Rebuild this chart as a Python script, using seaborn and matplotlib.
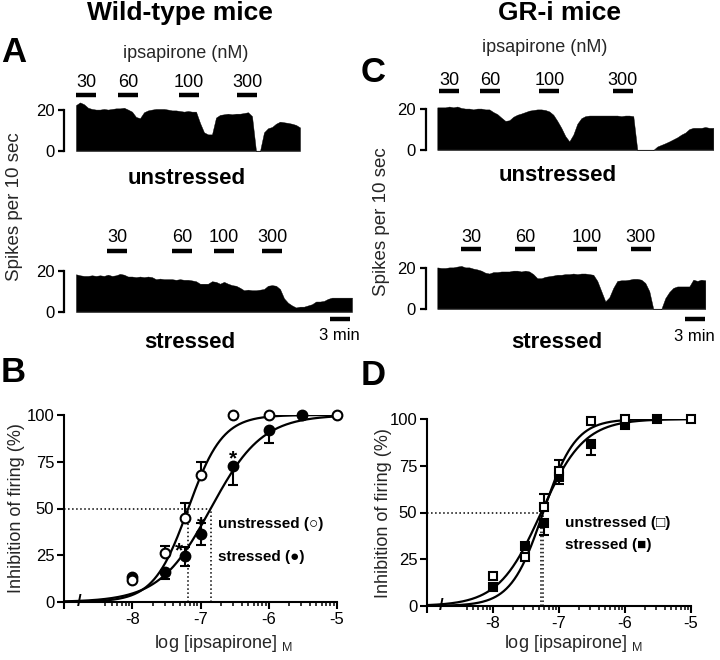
import numpy as np
import matplotlib
matplotlib.use("Agg")
import matplotlib.pyplot as plt
import seaborn as sns

# ---------------- data ----------------
# rate-meter traces (spikes per 10 s), one reading every 0.6 min
SAMPLE_MIN = 0.6
wt_unstressed_trace = [
    22.4, 23.7, 22.8, 21.1, 20.5, 20.2, 20.2, 20.5, 20.2, 20.5,
    20.8, 20.8, 21.1, 20.2, 19.2, 16.6, 16.0, 18.9, 19.8, 20.2,
    20.5, 20.5, 20.5, 20.2, 19.8, 19.8, 19.5, 19.2, 19.5, 19.2,
    19.2, 13.7, 9.1, 8.1, 8.1, 16.3, 17.6, 17.9, 18.2, 17.9,
    18.2, 18.2, 18.5, 18.9, 17.0, 0, 0, 9.1, 11.1, 11.7,
    13.3, 14.3, 14.0, 13.7, 13.3, 12.7, 11.5]
wt_stressed_trace = [
    18.4, 17.9, 17.6, 17.6, 17.9, 17.6, 17.9, 17.6, 18.2, 17.6,
    17.9, 18.6, 18.2, 17.3, 17.3, 17.0, 17.3, 17.0, 17.3, 17.0,
    16.0, 16.3, 16.0, 16.0, 16.0, 15.7, 16.0, 15.7, 15.7, 15.4,
    15.0, 13.8, 13.8, 13.8, 15.0, 14.7, 13.8, 14.7, 13.8, 13.1,
    12.8, 11.8, 10.6, 10.9, 10.6, 10.6, 10.9, 11.2, 12.8, 13.1,
    12.8, 11.2, 6.7, 4.5, 3.2, 2.2, 2.6, 2.6, 3.2, 3.8,
    5.1, 5.1, 5.4, 6.4, 7.0, 7.0, 7.0, 7.0, 7.0, 7.0]
gr_unstressed_trace = [
    20.8, 20.8, 20.8, 21.2, 20.8, 21.2, 20.5, 20.2, 20.2, 19.8,
    20.2, 20.2, 19.8, 19.8, 18.5, 17.5, 15.8, 14.2, 14.5, 16.2,
    17.2, 17.8, 18.5, 19.2, 19.5, 19.8, 19.8, 19.5, 18.8, 17.2,
    14.2, 10.8, 6.8, 4.2, 7.5, 12.8, 15.5, 16.5, 16.8, 16.8,
    16.8, 16.8, 16.8, 16.8, 16.8, 16.8, 16.5, 16.8, 16.8, 16.5,
    0, 0, 0, 0, 0, 1.7, 2.5, 3.3, 4.2, 5.2,
    6.2, 7.5, 8.5, 10.2, 10.8, 10.8, 10.8, 11.2, 10.8, 10.8]
gr_stressed_trace = [
    20.3, 20.0, 20.0, 20.3, 20.3, 20.7, 21.0, 20.3, 20.3, 19.7,
    19.3, 18.7, 17.7, 17.3, 18.0, 18.0, 18.3, 18.3, 18.3, 18.7,
    18.7, 18.3, 18.7, 18.3, 17.0, 15.0, 15.0, 15.7, 16.0, 16.3,
    16.7, 16.7, 17.0, 17.0, 17.3, 17.0, 17.3, 17.3, 17.0, 16.7,
    13.7, 8.7, 3.7, 5.7, 10.3, 13.7, 14.0, 14.0, 14.3, 14.7,
    14.7, 14.3, 12.7, 8.7, 0, 0, 0, 5.3, 8.3, 10.3,
    11.0, 11.0, 11.0, 11.0, 14.3, 13.7, 14.3, 14.0]

# ipsapirone applications (start, min), each lasting 3 min
dose_labels = ["30", "60", "100", "300"]
DOSE_MIN = 3.0
wt_unstressed_doses = [0.0, 6.3, 15.45, 24.15]
wt_stressed_doses = [4.65, 14.4, 20.7, 27.9]
gr_unstressed_doses = [0.25, 6.4, 15.3, 26.3]
gr_stressed_doses = [3.55, 11.65, 20.95, 29.05]
wt_scalebar_start = 38.1
gr_scalebar_start = 37.15

# dose-response points, log [ipsapirone] M, % inhibition
log_conc_unstr = [-8, -7.52, -7.22, -7, -6.52, -6, -5]
log_conc_str = [-8, -7.52, -7.22, -7, -6.52, -6, -5.52]

wt_unstr_mean = [12, 26, 45, 68, 100, 100, 100]
wt_unstr_err_lo = [0, 0, 0, 0, 0, 0, 0]
wt_unstr_err_hi = [0, 4, 8, 7, 0, 0, 0]
wt_str_mean = [13.5, 16, 24.5, 36.5, 72.5, 92, 100]
wt_str_err_lo = [0, 3.5, 5, 6, 10, 7, 0]
wt_str_err_hi = [0, 0, 5, 6, 0, 0, 0]

gr_unstr_mean = [16, 26, 53, 72, 99, 100, 100]
gr_unstr_err_lo = [0, 0, 0, 0, 0, 0, 0]
gr_unstr_err_hi = [0, 0, 7, 6, 0, 0, 0]
gr_str_mean = [10, 32, 44.5, 69, 86.5, 97, 100]
gr_str_err_lo = [0, 0, 6.5, 4, 6, 0, 0]
gr_str_err_hi = [0, 0, 0, 0, 0, 0, 0]

# sigmoid fits: [unstressed, stressed]
wt_log_ec50 = [-7.18, -6.85]
wt_hill = [1.72, 1.15]
gr_log_ec50 = [-7.24, -7.27]
gr_hill = [1.78, 1.34]

# ---------------- figure ----------------
sns.set_theme(style="ticks")
plt.rcParams["font.family"] = ["Liberation Sans", "DejaVu Sans"]
plt.rcParams["mathtext.default"] = "regular"
plt.rcParams["axes.unicode_minus"] = False

W, H = 720, 660
fig = plt.figure(figsize=(W / 100, H / 100), dpi=100)


def px_axes(left, top, width, height):
    return fig.add_axes([left / W, 1 - (top + height) / H, width / W, height / H])


def px_text(x, y, s, **kw):
    fig.text(x / W, 1 - y / H, s, **kw)


TRACE_W = 280   # px for 42 min
TRACE_H = 51.25  # px for 25 spikes


def draw_trace(left, base, values, doses, bar_y, lab_y, scale=None):
    ax = px_axes(left, base - TRACE_H, TRACE_W, TRACE_H)
    t = np.arange(len(values)) * SAMPLE_MIN
    ax.fill_between(t, 0, values, color="black", lw=0.3, clip_on=False)
    ax.hlines(0, t[0], t[-1], color="0.45", lw=0.9)
    ax.set_xlim(0, 42)
    ax.set_ylim(0, 25)
    for s in ["top", "right", "bottom"]:
        ax.spines[s].set_visible(False)
    ax.spines["left"].set_bounds(0, 20)
    ax.spines["left"].set_position(("outward", 8.3))
    ax.spines["left"].set_linewidth(1.6)
    ax.spines["left"].set_color("black")
    ax.set_xticks([])
    ax.set_yticks([0, 20])
    ax.tick_params(axis="y", length=4, width=1.6, labelsize=12, pad=3,
                   color="black", labelcolor="black")
    for start, lab in zip(doses, dose_labels):
        ax.hlines(bar_y, start, start + DOSE_MIN, color="black", lw=3.2,
                  clip_on=False)
        ax.text(start + DOSE_MIN / 2, lab_y, lab, ha="center", va="center",
                fontsize=13, color="black", clip_on=False)
    if scale is not None:
        start, sy, ty = scale
        ax.hlines(sy, start, start + 3, color="black", lw=3.2, clip_on=False)
        ax.text(start + 1.4, ty, "3 min", ha="center", va="center",
                fontsize=12, color="black", clip_on=False)
    return ax


draw_trace(76, 151, wt_unstressed_trace, wt_unstressed_doses, 27.3, 33.2)
draw_trace(76, 312, wt_stressed_trace, wt_stressed_doses, 29.8, 36.1,
           scale=(wt_scalebar_start, -3.4, -11.7))
draw_trace(437.3, 150, gr_unstressed_trace, gr_unstressed_doses, 28.8, 34.1)
draw_trace(437.3, 309, gr_stressed_trace, gr_stressed_doses, 29.3, 35.1,
           scale=(gr_scalebar_start, -4.9, -13.2))


def sigmoid(x, ec50, n):
    return 100 / (1 + 10 ** ((ec50 - x) * n))


def draw_dose_response(ax, unstr, strs, ec50s, hills, marker, ms, asterisks):
    x_fit = np.linspace(-9, -5, 400)
    for ec50, n in zip(ec50s, hills):
        sns.lineplot(x=x_fit, y=sigmoid(x_fit, ec50, n), color="black",
                     lw=1.6, ax=ax, zorder=2)
    # dotted guides at half-maximal inhibition
    ax.hlines(50, -9, max(ec50s), color="black", lw=1.1, linestyles=":")
    ax.vlines(ec50s, 0, 50, color="black", lw=1.1, linestyles=":")

    for (xs, ys, lo, hi), face in [(strs, "black"), (unstr, "white")]:
        for x, y, l, h in zip(xs, ys, lo, hi):
            if l > 0 or h > 0:
                ax.errorbar([x], [y], yerr=[[l], [h]], fmt="none",
                            ecolor="black", elinewidth=1.5, capsize=3.5,
                            capthick=1.5, zorder=3, clip_on=False)
        ax.plot(xs, ys, ls="none", marker=marker, ms=ms, mfc=face,
                mec="black", mew=1.5, zorder=4, clip_on=False)

    for x, y in asterisks:
        ax.text(x, y, "*", ha="center", va="center", fontsize=15,
                fontweight="bold", color="black", zorder=5)

    ax.set_xlim(-9, -5)
    ax.set_ylim(0, 100)
    ax.set_xticks([-9, -8, -7, -6, -5])
    ax.set_xticklabels(["", "-8", "-7", "-6", "-5"])
    minor = [d + np.log10(k) for d in (-8, -7, -6) for k in range(2, 10)]
    minor += [-9 + np.log10(k) for k in range(4, 10)]
    ax.set_xticks(minor, minor=True)
    ax.set_yticks([0, 25, 50, 75, 100])
    sns.despine(ax=ax)
    for s in ["left", "bottom"]:
        ax.spines[s].set_linewidth(1.5)
        ax.spines[s].set_color("black")
    ax.tick_params(which="major", length=5, width=1.5, labelsize=12,
                   color="black", labelcolor="black", pad=2)
    ax.tick_params(axis="x", which="major", pad=2)
    ax.tick_params(which="minor", length=3, width=1.1, color="black")
    ax.text(-8.78, 0, "/", ha="center", va="center", fontsize=12,
            fontweight="bold", color="black", clip_on=False)
    ax.set_xlabel("")
    ax.set_ylabel("")


ax_b = px_axes(64, 415, 273, 187)
draw_dose_response(
    ax_b,
    (log_conc_unstr, wt_unstr_mean, wt_unstr_err_lo, wt_unstr_err_hi),
    (log_conc_str, wt_str_mean, wt_str_err_lo, wt_str_err_hi),
    wt_log_ec50, wt_hill, "o", 7, [(-7.31, 27.3), (-7.0, 41.5), (-6.52, 76.5)])

ax_d = px_axes(427, 419, 264, 187)
draw_dose_response(
    ax_d,
    (log_conc_unstr, gr_unstr_mean, gr_unstr_err_lo, gr_unstr_err_hi),
    (log_conc_str, gr_str_mean, gr_str_err_lo, gr_str_err_hi),
    gr_log_ec50, gr_hill, "s", 6, [])

# ---------------- texts ----------------
bold = dict(fontweight="bold", color="black", ha="center", va="center")
px_text(180, 13, "Wild-type mice", fontsize=19, **bold)
px_text(560, 13, "GR-i mice", fontsize=19, **bold)
for lab, x, y in [("A", 14, 53), ("C", 373, 72), ("B", 13, 372), ("D", 373, 375)]:
    px_text(x, y, lab, fontsize=25, **bold)
px_text(186, 54, "ipsapirone (nM)", fontsize=13, ha="center", va="center")
px_text(545, 47, "ipsapirone (nM)", fontsize=13, ha="center", va="center")
px_text(187, 178, "unstressed", fontsize=16, **bold)
px_text(558, 176, "unstressed", fontsize=16, **bold)
px_text(190, 343, "stressed", fontsize=16, **bold)
px_text(557, 343, "stressed", fontsize=16, **bold)
px_text(15, 207, "Spikes per 10 sec", fontsize=13.5, rotation=90,
        ha="center", va="center")
px_text(381, 222, "Spikes per 10 sec", fontsize=13.5, rotation=90,
        ha="center", va="center")
px_text(17, 508, "Inhibition of firing (%)", fontsize=13, rotation=90,
        ha="center", va="center")
px_text(383, 513, "Inhibition of firing (%)", fontsize=13, rotation=90,
        ha="center", va="center")
xlab = r"log [ipsapirone] $_{M}$"
px_text(223, 644, xlab, fontsize=13, ha="center", va="center")
px_text(573, 643, xlab, fontsize=13, ha="center", va="center")

legend_kw = dict(fontsize=11, fontweight="bold", ha="left", va="center",
                 color="black")
px_text(218, 524, "unstressed (\u25cb)", **legend_kw)
px_text(218, 557, "stressed (\u25cf)", **legend_kw)
px_text(565, 523, "unstressed (\u25a1)", **legend_kw)
px_text(565, 545, "stressed (\u25a0)", **legend_kw)

fig.savefig("out.png", dpi=100)
